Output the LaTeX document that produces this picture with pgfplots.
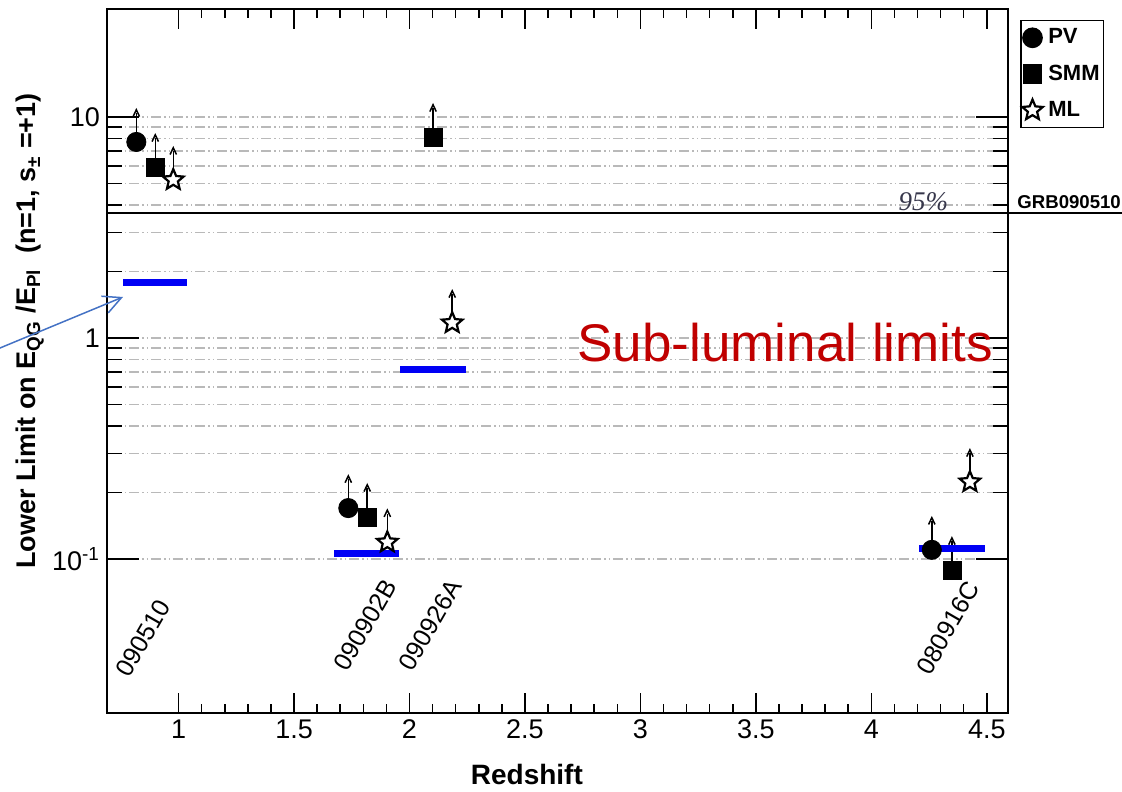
\documentclass[border=0pt]{standalone}
\usepackage{pgfplots}
\pgfplotsset{compat=1.18}
\usepackage{fontspec}
\setmainfont{Liberation Sans}
\newfontfamily\timesfont{Liberation Serif}
\usetikzlibrary{arrows.meta}

\definecolor{gridgray}{RGB}{185,185,185}
\definecolor{barblue}{RGB}{0,0,245}
\definecolor{notearrow}{RGB}{68,114,196}
\definecolor{notered}{RGB}{192,0,0}
\definecolor{cltext}{RGB}{55,55,75}

% open five-pointed star
\pgfdeclareplotmark{openstar}{%
  \pgfpathmoveto{\pgfpointpolar{90}{\pgfplotmarksize}}%
  \pgfpathlineto{\pgfpointpolar{126}{0.45\pgfplotmarksize}}%
  \pgfpathlineto{\pgfpointpolar{162}{\pgfplotmarksize}}%
  \pgfpathlineto{\pgfpointpolar{198}{0.45\pgfplotmarksize}}%
  \pgfpathlineto{\pgfpointpolar{234}{\pgfplotmarksize}}%
  \pgfpathlineto{\pgfpointpolar{270}{0.45\pgfplotmarksize}}%
  \pgfpathlineto{\pgfpointpolar{306}{\pgfplotmarksize}}%
  \pgfpathlineto{\pgfpointpolar{342}{0.45\pgfplotmarksize}}%
  \pgfpathlineto{\pgfpointpolar{18}{\pgfplotmarksize}}%
  \pgfpathlineto{\pgfpointpolar{54}{0.45\pgfplotmarksize}}%
  \pgfpathclose
  \pgfusepathqfillstroke}

% open arrow head at the end of each lower-limit arrow
% (error marks of y bars are turned by 90 degrees, so it points along +x here)
\pgfdeclareplotmark{limithead}{%
  \pgfpathmoveto{\pgfqpoint{-3.4pt}{1.6pt}}%
  \pgfpathlineto{\pgfqpoint{0pt}{0pt}}%
  \pgfpathlineto{\pgfqpoint{-3.4pt}{-1.6pt}}%
  \pgfusepathqstroke}

\pgfplotsset{
  gbbox/.style={
    scale only axis, width=450.5pt, height=352pt,
    xmin=0.69, xmax=4.592, ymin=0.0201, ymax=30.8,
    axis line style={black, line width=1pt},
    tick align=inside,
    tick style={black, line width=0.75pt},
  },
  lgmark/.style={legend image code/.code={%
      \path (0pt,0pt) (11pt,0pt);
      \draw[##1] plot coordinates {(5.5pt,0pt)};}},
  limitarrows/.style={
    error bars/.cd,
      y dir=plus, y fixed relative=0.35,
      error mark=limithead,
      error bar style={black, line width=0.75pt, solid},
      error mark options={black, line width=0.75pt, solid, fill=none},
  },
  gridline/.style={gridgray, line width=0.75pt,
      dash pattern=on 5pt off 1.5pt on 1.2pt off 1.2pt on 0.6pt off 1.5pt},
}

\begin{document}
\begin{tikzpicture}
% box carrying the logarithmic y ticks and the horizontal grid
\begin{axis}[
  ymode=log,
  gbbox,
  xtick=\empty,
  ytick={0.1,1,10},
  yticklabels={10\textsuperscript{-1},1,10},
  major tick length=16pt, minor tick length=7.5pt,
  ymajorgrids, yminorgrids,
  major grid style={gridline},
  minor grid style={gridline},
  ticklabel style={font=\fontsize{13.5}{16}\selectfont},
  ylabel={Lower Limit on E\textsubscript{QG} /E\textsubscript{Pl}\ \ (n=1, s\textsubscript{±} =+1)},
  ylabel style={font=\bfseries\fontsize{13.5}{16}\selectfont,
      at={(axis description cs:-0.0855,0.5426)}, anchor=center},
]
\end{axis}

\begin{axis}[
  name=ax,
  ymode=log,
  gbbox,
  clip=false,
  ytick=\empty,
  xtick={1,1.5,2,2.5,3,3.5,4,4.5},
  xticklabels={1,1.5,2,2.5,3,3.5,4,4.5},
  minor x tick num=4,
  major tick length=10pt, minor tick length=4.5pt,
  ticklabel style={font=\fontsize{13.5}{16}\selectfont},
  xlabel={Redshift},
  xlabel style={font=\bfseries\fontsize{14}{16}\selectfont,
      at={(axis description cs:0.466,-0.088)}, anchor=center},
  legend style={at={(1.0133,0.9844)}, anchor=north west, draw=black,
      line width=0.75pt, font=\bfseries\fontsize{11}{13}\selectfont,
      inner xsep=0pt, inner ysep=2pt, row sep=5pt},
  legend cell align=left,
]

% PV
\addplot[only marks, mark=*, mark size=4.8pt, black, lgmark, limitarrows]
  coordinates {(0.817,7.71) (1.735,0.170) (4.262,0.110)};
\addlegendentry{PV}
% SMM
\addplot[only marks, mark=square*, mark size=4.5pt, black, lgmark, limitarrows]
  coordinates {(0.899,5.94) (2.102,8.12) (1.817,0.155) (4.349,0.0891)};
\addlegendentry{SMM}
% ML
\addplot[only marks, mark=openstar, mark size=5.4pt, black,
    mark options={fill=white, line width=1.1pt}, lgmark, limitarrows]
  coordinates {(0.977,5.19) (2.185,1.169) (1.904,0.119) (4.427,0.223)};
\addlegendentry{ML}

% sub-luminal limits
\addplot[barblue, line width=3.5pt, forget plot] coordinates {(0.761,1.79) (1.038,1.79)};
\addplot[barblue, line width=3.5pt, forget plot] coordinates {(1.674,0.1054) (1.955,0.1054)};
\addplot[barblue, line width=3.5pt, forget plot] coordinates {(1.960,0.7166) (2.245,0.7166)};
\addplot[barblue, line width=3.5pt, forget plot] coordinates {(4.207,0.112) (4.493,0.112)};

% 95% limit from GRB090510
\addplot[black, line width=0.9pt, forget plot] coordinates {(0.69,3.68) (5.25,3.68)};
\node[anchor=base west, inner sep=0pt, text=cltext,
      font=\timesfont\itshape\fontsize{13.5}{16}\selectfont] at (axis cs:4.116,3.79) {95\%};
\node[anchor=base west, inner sep=0pt,
      font=\bfseries\fontsize{9.3}{11}\selectfont] at (axis cs:4.631,3.84) {GRB090510};

% burst names
\node[rotate=60, font=\fontsize{12.5}{14}\selectfont] at (axis cs:0.847,0.0439) {090510};
\node[rotate=60, font=\fontsize{12.5}{14}\selectfont] at (axis cs:1.808,0.0502) {090902B};
\node[rotate=60, font=\fontsize{12.5}{14}\selectfont] at (axis cs:2.089,0.0502) {090926A};
\node[rotate=60, font=\fontsize{12.5}{14}\selectfont] at (axis cs:4.332,0.0488) {080916C};

\node[anchor=base west, inner sep=0pt, text=notered,
      font=\fontsize{26.5}{30}\selectfont] at (axis cs:2.726,0.779) {Sub-luminal limits};
\end{axis}

\begin{scope}[shift={(ax.south west)}]
  \draw[notearrow, line width=0.75pt, -{Straight Barb[length=9pt,width=9pt]}]
    (-60pt,179.8pt) -- (8pt,208pt);
\end{scope}
\pgfresetboundingbox
\path[shift={(ax.south west)}] (-53.5pt,-39pt) rectangle (507.5pt,356.5pt);
\end{tikzpicture}
\end{document}
